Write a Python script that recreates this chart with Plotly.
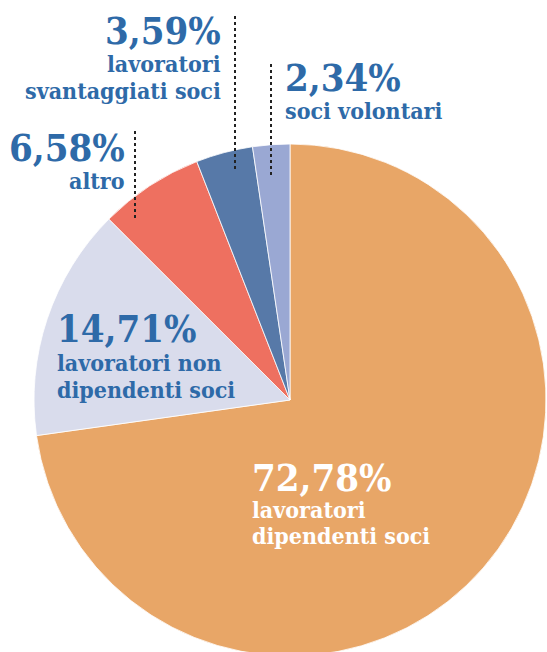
import plotly.graph_objects as go

# composizione soci
labels = ['lavoratori dipendenti soci', 'lavoratori non dipendenti soci', 'altro',
          'lavoratori svantaggiati soci', 'soci volontari']
values = [72.78, 14.71, 6.58, 3.59, 2.34]
colors = ['#E8A667', '#D9DCEC', '#EE7060', '#5779A8', '#9AA8D3']
label_lines = [['lavoratori', 'dipendenti soci'],
               ['lavoratori non', 'dipendenti soci'],
               ['altro'],
               ['lavoratori', 'svantaggiati soci'],
               ['soci volontari']]

W, H = 547, 660
FONT = "'DejaVu Serif Condensed', 'DejaVu Serif', serif"
BLUE = '#2E6AA8'


def px(x):
    return x / W


def py(y):
    return 1 - y / H


def pct(v):
    return ('%.2f' % v).replace('.', ',') + '%'


# pie centred at (290, 400) with radius 256 px
cx, cy, r = 290, 400, 256
fig = go.Figure(go.Pie(
    labels=labels,
    values=values,
    sort=False,
    direction='clockwise',
    rotation=0,
    marker=dict(colors=colors, line=dict(color='white', width=0.8)),
    textinfo='none',
    hoverinfo='label+percent',
    showlegend=False,
    domain=dict(x=[px(cx - r), px(cx + r)], y=[py(cy + r), py(cy - r)]),
))

# label placement: x anchor, alignment, baseline of percentage, baselines of text lines, colour
placement = [
    (250, 'left', 492, [519, 545], 'white'),
    (55, 'left', 343, [372, 399], BLUE),
    (127, 'right', 162, [190], BLUE),
    (223, 'right', 45, [73, 100], BLUE),
    (283, 'left', 92, [120], BLUE),
]

big, small = 38, 23


def add_text(text, x, align, baseline, size, color):
    # bottom of text box sits below baseline by the descent plus border pad
    bottom = baseline + 0.236 * size + 1
    fig.add_annotation(
        text='<b>%s</b>' % text, x=px(x), y=py(bottom), xref='paper', yref='paper',
        xanchor=align, yanchor='bottom', showarrow=False, align=align,
        font=dict(family=FONT, size=size, color=color),
    )


for v, lines, (x, align, base, line_bases, col) in zip(values, label_lines, placement):
    add_text(pct(v), x, align, base, big, col)
    for t, b in zip(lines, line_bases):
        add_text(t, x, align, b, small, col)

# dotted leader lines
leaders = [(235, 16, 169), (271, 64, 175), (135, 131, 221)]
for x, y0, y1 in leaders:
    fig.add_shape(type='line', xref='paper', yref='paper',
                  x0=px(x), x1=px(x), y0=py(y0), y1=py(y1),
                  line=dict(color='#222222', width=2, dash='dot'))

fig.update_layout(
    width=W, height=H,
    margin=dict(l=0, r=0, t=0, b=0),
    paper_bgcolor='white',
    plot_bgcolor='white',
)

fig.write_html('out.html', config={'displayModeBar': False},
               post_script="document.body.style.margin='0';document.body.style.overflow='hidden';")
